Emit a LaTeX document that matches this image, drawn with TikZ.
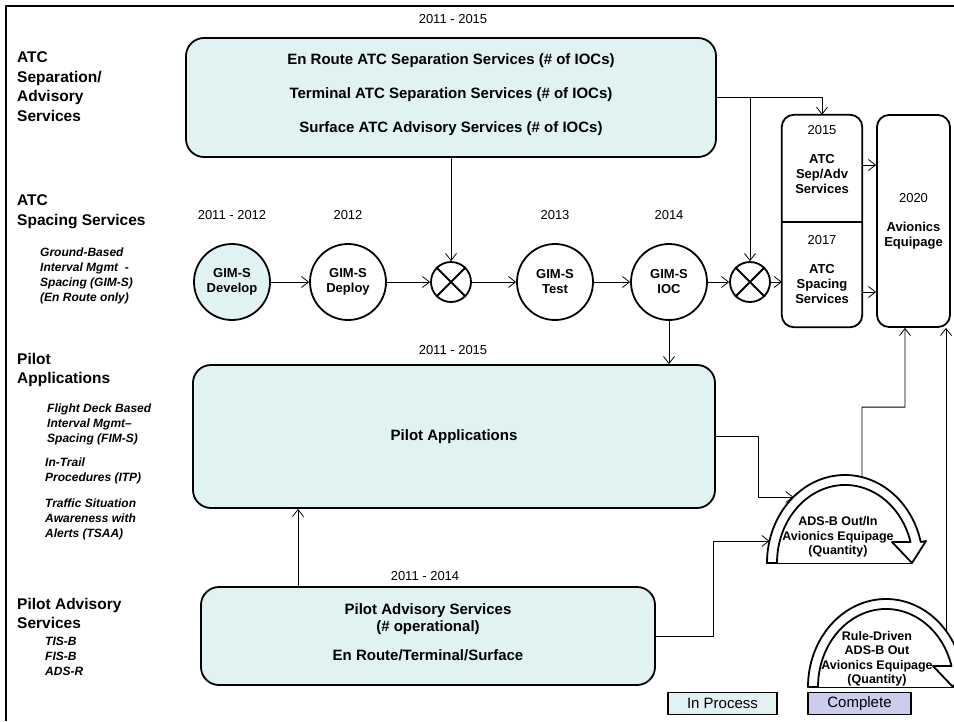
\documentclass[tikz,border=0pt]{standalone}
\usepackage{fontspec}
\setmainfont{Liberation Sans}
\usetikzlibrary{arrows.meta}
\definecolor{inproc}{RGB}{224,242,242}
\definecolor{donecol}{RGB}{204,204,238}
\tikzset{
  pics/bandarrow/.style={code={
    \begin{scope}[yscale=-1]
      \draw[line width=0.8pt] (-78,0) -- (67,0);
      \draw[line width=1.8pt,fill=white] (-78,0)
        arc[start angle=180,end angle=13.8,x radius=78,y radius=88]
        -- (81,22) -- (67,0) -- (47,21) -- (65.5,21)
        arc[start angle=15.6,end angle=180,x radius=68,y radius=78] -- cycle;
      \coordinate (-inA) at (131.4:78 and 88);
      \coordinate (-inB) at (165.5:78 and 88);
      \coordinate (-out) at (#1:78 and 88);
    \end{scope}
  }},
  pics/bandarrow/.default=60
}
\begin{document}
\begin{tikzpicture}[x=1pt,y=-1pt,line join=round,>={Straight Barb[length=7pt,width=11pt]},
  every node/.style={inner sep=0pt},
  hdr/.style={anchor=north west,align=left,font=\bfseries\fontsize{15.5}{19.5}\selectfont},
  sub/.style={anchor=north west,align=left,font=\bfseries\itshape\fontsize{12}{15}\selectfont},
  yr/.style={font=\fontsize{13}{15}\selectfont},
  bigbox/.style={draw,line width=1.8pt,rounded corners=18pt,fill=inproc,align=center,font=\bfseries\fontsize{15}{16.5}\selectfont},
  tallbox/.style={minimum width=80pt,align=center,font=\bfseries\fontsize{13}{15}\selectfont},
  stage/.style={circle,draw,line width=1.8pt,minimum size=76pt,align=center,font=\bfseries\fontsize{13}{15}\selectfont},
  merge/.style={circle,draw,line width=1.8pt,minimum size=40pt},
  arctxt/.style={align=center,font=\bfseries\fontsize{12.5}{14.5}\selectfont},
  legend/.style={draw,line width=1.8pt,minimum height=22pt,font=\fontsize{15}{17}\selectfont},
  conn/.style={line width=0.8pt}]
\useasboundingbox (0,0) rectangle (954,721);
\draw[line width=2.4pt] (6,721) -- (6,6) -- (954,6);

% row headings
\node[hdr] (hsep) at (17,51.6) {ATC\\Separation/\\Advisory\\Services};
\node[hdr] (hspc) at (17,194.6) {ATC\\Spacing Services};
\node[sub] (sgim) at (40,248) {Ground-Based\\Interval Mgmt~ -\\Spacing (GIM-S)\\(En Route only)};
\node[hdr] (hpil) at (17,352.6) {Pilot\\Applications};
\node[sub] (sfim) at (47,404) {Flight Deck Based\\Interval Mgmt–\\Spacing (FIM-S)};
\node[sub] (sitp) at (45,458) {In-Trail\\Procedures (ITP)};
\node[sub] (stsa) at (45,499) {Traffic Situation\\Awareness with\\Alerts (TSAA)};
\node[hdr] (hadv) at (17,597.6) {Pilot Advisory\\Services};
\node[sub] (sadv) at (45,637) {TIS-B\\FIS-B\\ADS-R};

% ATC separation
\node[yr] at (453,19) {2011 - 2015};
\node[bigbox,minimum width=530pt,minimum height=119pt,text depth=8pt] (atcsep) at (451,97.5)
  {En Route ATC Separation Services (\# of IOCs)\\[17.5pt]
   Terminal ATC Separation Services (\# of IOCs)\\[17.5pt]
   Surface ATC Advisory Services (\# of IOCs)};

% GIM-S chain
\node[stage,fill=inproc] (dev) at (232,282) {GIM-S\\Develop};
\node[stage] (dep) at (348,282) {GIM-S\\Deploy};
\node[merge] (x1) at (451,282) {};
\node[stage] (test) at (555,282) {GIM-S\\Test};
\node[stage] (ioc) at (669,282) {GIM-S\\IOC};
\node[merge] (x2) at (750,282) {};
\draw[line width=1.8pt] (x1.north east) -- (x1.south west) (x1.north west) -- (x1.south east)
  (x2.north east) -- (x2.south west) (x2.north west) -- (x2.south east);
\node[yr] at (232,215) {2011 - 2012};
\node[yr] at (348,215) {2012};
\node[yr] at (555,215) {2013};
\node[yr] at (669,215) {2014};

% right column
\node[tallbox,minimum height=107pt,text depth=19pt] (sepadv) at (822,168.5) {{\mdseries 2015}\\[14pt]ATC\\Sep/Adv\\Services};
\node[tallbox,minimum height=105pt,text depth=11pt] (spacing) at (822,274.5) {{\mdseries 2017}\\[14pt]ATC\\Spacing\\Services};
\draw[line width=1.8pt,rounded corners=12pt] (sepadv.north west) rectangle (spacing.south east);
\draw[line width=1.8pt] (sepadv.south west) -- (sepadv.south east);
\node[tallbox,draw,line width=1.8pt,rounded corners=12pt,minimum width=73pt,minimum height=212pt] (avion) at (913.5,221)
  {{\mdseries 2020}\\[14pt]Avionics\\Equipage};

% pilot boxes
\node[yr] at (453,350) {2011 - 2015};
\node[bigbox,minimum width=522pt,minimum height=143pt] (papp) at (454,436.5) {Pilot Applications};
\node[yr] at (425,576) {2011 - 2014};
\node[bigbox,minimum width=454pt,minimum height=98pt,text depth=8pt] (padv) at (428,636)
  {Pilot Advisory Services\\(\# operational)\\[12.5pt]En Route/Terminal/Surface};

% equipage arrows
\pic (adsb) at (845,563) {bandarrow=77.4};
\node[arctxt] (adsbtxt) at (838,537) {ADS-B Out/In\\Avionics Equipage\\(Quantity)};
\pic (rule) at (886,687) {bandarrow=39.7};
\node[arctxt] (ruletxt) at (877,659) {Rule-Driven\\ADS-B Out\\Avionics Equipage\\(Quantity)};

% legend
\node[legend,fill=inproc,minimum width=109pt] (lproc) at (722.5,703.5) {In Process};
\node[legend,fill=donecol,minimum width=103pt] (ldone) at (859.5,703.5) {Complete};

% connectors
\begin{scope}[conn]
\draw[->] (atcsep.south) -- (x1.north);
\draw[->] (atcsep.east) -| (sepadv.north);
\draw[->] (atcsep.east -| x2) -- (x2.north);
\foreach \a/\b in {dev/dep,dep/x1,x1/test,test/ioc,ioc/x2}
  \draw[->] (\a) -- (\b);
\draw[->] (x2.east) -- (x2.east -| spacing.west);
\draw[->] ([yshift=3.5pt]sepadv.east) -- ([yshift=3.5pt]sepadv.east -| avion.west);
\draw[->] ([yshift=-17.5pt]spacing.east) -- ([yshift=-17.5pt]spacing.east -| avion.west);
\draw[->] (ioc.south) -- (ioc.south |- papp.north);
\draw[->] ([xshift=-130pt]padv.north) -- ([xshift=-130pt]padv.north |- papp.south);
\draw[->] (papp.east) -- ++(42,0) |- (adsb-inA);
\draw[->] (padv.east) -- ++(57,0) |- (adsb-inB);
\draw[->] (adsb-out) |- ++(43,-70) -- ([xshift=-8.5pt]avion.south);
\draw[->] (rule-out) -- (rule-out |- avion.south);
\end{scope}
\end{tikzpicture}
\end{document}
